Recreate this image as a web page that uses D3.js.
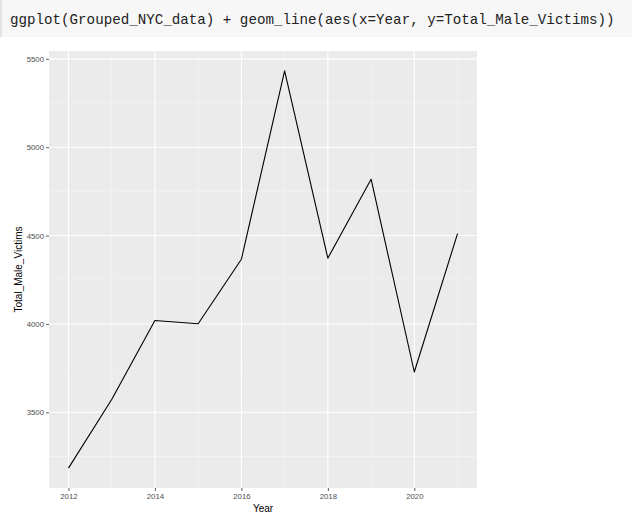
<!DOCTYPE html>
<html><head><meta charset="utf-8">
<script src="https://cdn.jsdelivr.net/npm/d3@7"></script>
<style>body{margin:0;background:#fff;} svg{display:block}</style>
</head><body><svg id="c" width="632" height="522"></svg>
<script>
const years = [2012, 2013, 2014, 2015, 2016, 2017, 2018, 2019, 2020, 2021];
const totalMaleVictims = [3184, 3572, 4019, 4001, 4366, 5432, 4372, 4819, 3728, 4511];
const xTicks = [2012, 2014, 2016, 2018, 2020];
const xMinor = [2013, 2015, 2017, 2019, 2021];
const yTicks = [3500, 4000, 4500, 5000, 5500];
const yMinor = [3250, 3750, 4250, 4750, 5250];
const codeLine = "ggplot(Grouped_NYC_data) + geom_line(aes(x=Year, y=Total_Male_Victims))";

const svg = d3.select("#c");
// code header
svg.append("rect").attr("x",0).attr("y",0).attr("width",632).attr("height",37).attr("fill","#f7f7f7");
svg.append("rect").attr("x",0).attr("y",0).attr("width",2).attr("height",37).attr("fill","#e3e3e3");
svg.append("text").attr("x",10).attr("y",24).attr("font-family","'Liberation Mono', 'DejaVu Sans Mono', monospace")
  .attr("font-size",14.2).attr("fill","#222").attr("xml:space","preserve").text(codeLine);

const L=49, R=477, T=51, B=488;
const xe = d3.extent(years), xp = (xe[1]-xe[0])*0.05;
const ye = d3.extent(totalMaleVictims), yp = (ye[1]-ye[0])*0.05;
const x = d3.scaleLinear().domain([xe[0]-xp, xe[1]+xp]).range([L, R]);
const y = d3.scaleLinear().domain([ye[0]-yp, ye[1]+yp]).range([B, T]);

svg.append("rect").attr("x",L).attr("y",T).attr("width",R-L).attr("height",B-T).attr("fill","#EBEBEB");
const g = svg.append("g");
g.selectAll(".ymin").data(yMinor).join("line").attr("x1",L).attr("x2",R)
  .attr("y1",d=>y(d)).attr("y2",d=>y(d)).attr("stroke","#F5F5F5").attr("stroke-width",0.6);
g.selectAll(".xmin").data(xMinor).join("line").attr("y1",T).attr("y2",B)
  .attr("x1",d=>x(d)).attr("x2",d=>x(d)).attr("stroke","#F5F5F5").attr("stroke-width",0.6);
g.selectAll(".ymaj").data(yTicks).join("line").attr("x1",L).attr("x2",R)
  .attr("y1",d=>y(d)).attr("y2",d=>y(d)).attr("stroke","#FFFFFF").attr("stroke-width",1.1);
g.selectAll(".xmaj").data(xTicks).join("line").attr("y1",T).attr("y2",B)
  .attr("x1",d=>x(d)).attr("x2",d=>x(d)).attr("stroke","#FFFFFF").attr("stroke-width",1.1);

const line = d3.line().x((d,i)=>x(years[i])).y(d=>y(d));
svg.append("path").datum(totalMaleVictims).attr("d",line).attr("fill","none")
  .attr("stroke","#000").attr("stroke-width",1.1).attr("stroke-linejoin","round");

const font = "'Liberation Sans', Arial, sans-serif";
const xAxis = svg.append("g").attr("transform",`translate(0,${B})`)
  .call(d3.axisBottom(x).tickValues(xTicks).tickFormat(d3.format("d")).tickSize(3).tickPadding(2));
const yAxis = svg.append("g").attr("transform",`translate(${L},0)`)
  .call(d3.axisLeft(y).tickValues(yTicks).tickFormat(d3.format("d")).tickSize(3).tickPadding(2));
[xAxis,yAxis].forEach(a=>{
  a.select(".domain").remove();
  a.selectAll(".tick line").attr("stroke","#333333").attr("stroke-width",0.8);
  a.selectAll(".tick text").attr("fill","#4D4D4D").attr("font-family",font).attr("font-size",7.8);
});
svg.append("text").attr("x",(L+R)/2).attr("y",512).attr("text-anchor","middle")
  .attr("font-family",font).attr("font-size",10).attr("fill","#000").text("Year");
svg.append("text").attr("transform",`translate(22,${(T+B)/2}) rotate(-90)`).attr("text-anchor","middle")
  .attr("font-family",font).attr("font-size",10).attr("fill","#000").text("Total_Male_Victims");
</script></body></html>
